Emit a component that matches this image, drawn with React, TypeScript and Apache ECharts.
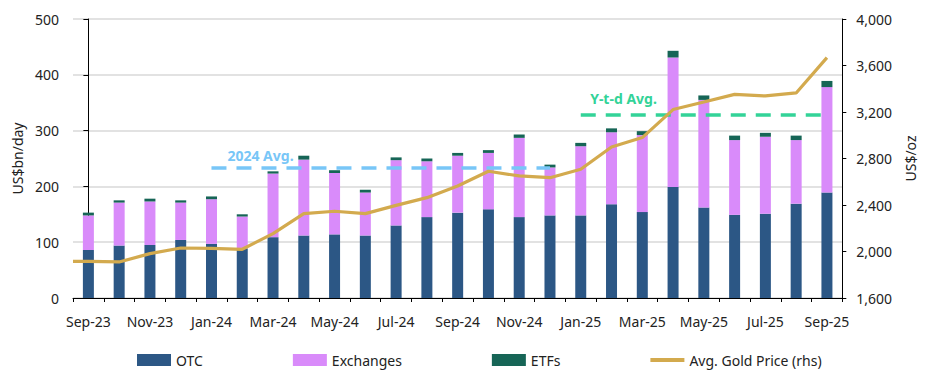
import React, { useEffect, useRef } from "react";
import * as echarts from "echarts";

const categories = [
  "Sep-23", "Oct-23", "Nov-23", "Dec-23", "Jan-24", "Feb-24", "Mar-24", "Apr-24", "May-24",
  "Jun-24", "Jul-24", "Aug-24", "Sep-24", "Oct-24", "Nov-24", "Dec-24", "Jan-25", "Feb-25",
  "Mar-25", "Apr-25", "May-25", "Jun-25", "Jul-25", "Aug-25", "Sep-25",
];
const otc = [86, 94, 95, 104, 97, 89, 109, 112, 114, 112, 130, 145, 153, 159, 145, 148, 148, 168, 154, 199, 162, 149, 151, 169, 189];
const exchanges = [62, 77, 78, 67, 80, 57, 114, 136, 110, 77, 117, 100, 102, 101, 142, 86, 124, 129, 138, 232, 193, 134, 138, 114, 189];
const etfs = [5, 4, 5, 4, 5, 4, 4, 7, 5, 5, 5, 5, 5, 5, 6, 5, 6, 7, 7, 12, 8, 8, 7, 8, 11];
const goldPrice = [1915, 1910, 1982, 2030, 2027, 2019, 2154, 2326, 2346, 2326, 2397, 2463, 2564, 2690, 2650, 2635, 2707, 2899, 2980, 3221, 3286, 3352, 3338, 3364, 3668];
const avg2024 = { value: 233, from: "Jan-24", to: "Dec-24", label: "2024 Avg." };
const avgYtd = { value: 328, from: "Jan-25", to: "Sep-25", label: "Y-t-d Avg." };

const FONT = "Noto Sans";
const LINE_ICON = "path://M0,0M0,4H34V8H0ZM34,12";

export default function App() {
  const ref = useRef<HTMLDivElement>(null);
  useEffect(() => {
    if (!ref.current) return;
    const chart = echarts.init(ref.current, null, { renderer: "svg" });
    const idx = (c: string) => categories.indexOf(c);
    const goldData: [number, number][] = [[-0.5, goldPrice[0]], ...goldPrice.map((v, i) => [i, v] as [number, number])];
    const avgLine = (a: typeof avg2024, color: string) => ({
      type: "line",
      xAxisIndex: 1,
      yAxisIndex: 0,
      data: [[idx(a.from), a.value], [idx(a.to), a.value]],
      symbol: "none",
      silent: true,
      lineStyle: { color, width: 3.5, type: [15, 10], cap: "butt" },
      z: 5,
    });
    chart.setOption({
      animation: false,
      textStyle: { fontFamily: FONT },
      grid: { left: 73, right: 78, top: 19, bottom: 74, containLabel: false },
      legend: {
        left: 132,
        top: 348,
        itemWidth: 34,
        itemHeight: 12,
        itemGap: 90,
        textStyle: { fontSize: 14, color: "#222", fontFamily: FONT },
        data: [
          { name: "OTC", icon: "rect" },
          { name: "Exchanges", icon: "rect" },
          { name: "ETFs", icon: "rect" },
          { name: "Avg. Gold Price (rhs)", icon: LINE_ICON },
        ],
      },
      xAxis: [
        {
          type: "category",
          data: categories,
          boundaryGap: true,
          axisLine: { lineStyle: { color: "#000", width: 1 } },
          axisTick: { show: true, interval: 0, length: 4, lineStyle: { color: "#000" } },
          axisLabel: { interval: 1, margin: 16, fontSize: 14, color: "#222", fontFamily: FONT },
          splitLine: { show: false },
        },
        {
          type: "value",
          min: -0.5,
          max: 24.5,
          show: false,
        },
      ],
      yAxis: [
        {
          type: "value",
          min: 0,
          max: 500,
          interval: 100,
          name: "US$bn/day",
          nameLocation: "middle",
          nameRotate: 90,
          nameGap: 46,
          nameTextStyle: { fontSize: 14, color: "#222", fontFamily: FONT },
          axisLine: { show: true, lineStyle: { color: "#000", width: 1 } },
          axisTick: { show: true, length: 5, lineStyle: { color: "#000" } },
          axisLabel: { margin: 14, fontSize: 14, color: "#222", fontFamily: FONT },
          splitLine: { show: true, lineStyle: { color: "#d9d9d9", width: 1.5 } },
        },
        {
          type: "value",
          min: 1600,
          max: 4000,
          interval: 400,
          name: "US$/oz",
          nameLocation: "middle",
          nameRotate: 90,
          nameGap: 60,
          nameTextStyle: { fontSize: 14, color: "#222", fontFamily: FONT },
          axisLine: { show: true, lineStyle: { color: "#000", width: 1 } },
          axisTick: { show: true, length: 4, lineStyle: { color: "#000" } },
          axisLabel: {
            margin: 14,
            fontSize: 14,
            color: "#222",
            fontFamily: FONT,
            formatter: (v: number) => v.toLocaleString("en-US"),
          },
          splitLine: { show: false },
        },
      ],
      series: [
        {
          name: "OTC",
          type: "bar",
          stack: "vol",
          data: otc,
          barWidth: 11,
          itemStyle: { color: "#2c5785" },
        },
        {
          name: "Exchanges",
          type: "bar",
          stack: "vol",
          data: exchanges,
          barWidth: 11,
          itemStyle: { color: "#d98bfa" },
        },
        {
          name: "ETFs",
          type: "bar",
          stack: "vol",
          data: etfs,
          barWidth: 11,
          itemStyle: { color: "#166556" },
        },
        avgLine(avg2024, "#78c6f7"),
        avgLine(avgYtd, "#33d398"),
        {
          name: "Avg. Gold Price (rhs)",
          type: "line",
          xAxisIndex: 1,
          yAxisIndex: 1,
          data: goldData,
          symbol: "none",
          showSymbol: false,
          lineStyle: { color: "#d3aa4e", width: 3.2 },
          itemStyle: { color: "#d3aa4e" },
          z: 10,
        },
      ],
      graphic: [
        {
          type: "text",
          x: 260.5,
          y: 155,
          style: {
            text: avg2024.label,
            fill: "#78c6f7",
            font: `bold 14px "${FONT}"`,
            align: "center",
            verticalAlign: "middle",
          },
        },
        {
          type: "text",
          x: 623.5,
          y: 98,
          style: {
            text: avgYtd.label,
            fill: "#33d398",
            font: `bold 14px "${FONT}"`,
            align: "center",
            verticalAlign: "middle",
          },
        },
      ],
    });
    return () => chart.dispose();
  }, []);
  return <div ref={ref} style={{ width: 925, height: 372, position: "absolute", left: 0, top: 0 }} />;
}
